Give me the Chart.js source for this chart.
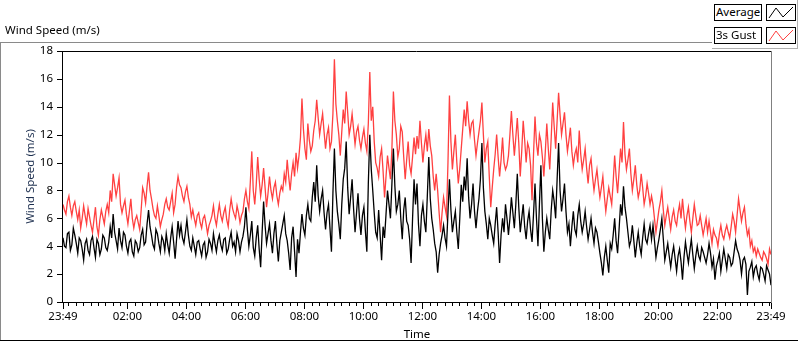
<!DOCTYPE html>
<html>
<head>
<meta charset="utf-8">
<script src="https://cdn.jsdelivr.net/npm/chart.js@4.4.1/dist/chart.umd.min.js"></script>
<style>
  html, body { margin: 0; padding: 0; background: #fff; }
  #wrap { position: relative; width: 800px; height: 342px; overflow: hidden; font-family: "Noto Sans", "DejaVu Sans", sans-serif; font-size: 11.5px; color: #000; }
  #c { position: absolute; left: 0; top: 0; }
  .ln { position: absolute; }
  .title { position: absolute; left: 5px; top: 22px; line-height: 16px; white-space: nowrap; }
  .panel { position: absolute; left: 712px; top: 0; width: 86px; height: 49px; border-right: 1px solid #b0b0b0; border-bottom: 1px solid #b0b0b0; box-sizing: border-box; }
  .lgbox { position: absolute; box-sizing: border-box; border: 1px solid #000; background: #fff; line-height: 14px; padding-left: 1px; white-space: nowrap; overflow: hidden; }
  .lgicon { position: absolute; box-sizing: border-box; border: 1px solid #000; background: #fff; }
</style>
</head>
<body>
<div id="wrap">
  <canvas id="c" width="800" height="342"></canvas>
  <div class="title">Wind Speed (m/s)</div>
  <div class="ln" style="left:0;top:42px;width:712px;height:1px;background:#8a8a8a"></div>
  <div class="ln" style="left:0;top:42px;width:1px;height:299px;background:#8a8a8a"></div>
  <div class="ln" style="left:0;top:340px;width:798px;height:1px;background:#000"></div>
  <div class="panel"></div>
  <div class="lgbox" style="left:714px;top:4px;width:48px;height:17px">Average</div>
  <div class="lgicon" style="left:766px;top:4px;width:30px;height:17px">
    <svg width="28" height="15" style="display:block"><polyline points="2,13 9,3 16,12 26,2" fill="none" stroke="#000" stroke-width="1"/></svg>
  </div>
  <div class="lgbox" style="left:714px;top:27px;width:48px;height:17px">3s Gust</div>
  <div class="lgicon" style="left:766px;top:27px;width:30px;height:17px">
    <svg width="28" height="15" style="display:block"><polyline points="2,13 9,3 16,12 26,2" fill="none" stroke="#ff4040" stroke-width="1"/></svg>
  </div>
</div>
<script>
// ---- data, one sample every 3 minutes starting 23:49 ----
const SAMPLE_STEP_MIN = 3;

const averageSpeed = [
  4.6,4.0,3.9,4.9,5.0,3.7,4.1,5.3,4.8,4.2,3.5,4.6,4.4,3.8,3.0,4.2,4.5,3.7,3.4,4.4,
  4.7,3.9,3.2,4.5,4.2,3.4,3.8,4.8,4.6,3.9,3.7,4.3,5.4,4.6,6.3,5.0,4.4,3.8,5.3,4.4,
  3.9,5.0,4.8,4.0,3.5,4.3,4.5,3.6,3.3,4.4,4.2,3.6,3.9,4.8,5.2,4.1,4.3,5.6,6.6,5.4,
  4.8,4.1,3.8,5.2,4.9,4.2,3.6,4.7,4.4,3.7,4.9,4.1,3.5,4.6,5.4,4.3,3.1,4.5,5.8,4.8,
  5.5,4.6,4.2,5.0,5.9,4.8,4.0,3.7,4.6,4.0,3.4,4.3,4.4,3.8,3.3,4.1,4.3,3.2,3.6,4.5,
  4.2,3.7,4.9,4.2,3.6,4.4,4.8,4.1,3.7,4.5,4.6,3.5,3.8,4.5,5.0,4.0,4.3,3.6,4.9,4.4,
  3.6,4.3,4.7,5.4,6.8,5.2,4.0,4.8,5.8,3.9,3.3,4.6,5.5,3.8,2.5,5.0,7.2,5.5,4.2,4.9,
  5.6,4.4,3.5,4.9,5.8,4.2,2.9,4.4,5.0,5.6,6.2,4.9,4.4,3.5,2.3,4.6,5.4,3.6,1.8,4.5,
  3.5,5.0,6.3,5.3,4.8,6.2,7.0,6.0,5.8,7.5,8.6,7.2,9.8,7.6,6.5,7.4,8.0,6.4,5.2,6.4,
  7.0,5.3,3.6,7.8,11.0,8.0,6.5,5.6,4.5,7.0,8.8,9.6,11.5,8.2,6.3,7.5,8.8,6.7,5.0,6.4,
  7.8,6.0,4.8,6.2,6.8,5.1,3.6,8.5,12.0,9.5,8.0,6.4,5.0,4.6,6.6,4.8,3.0,5.4,4.6,6.3,
  8.0,7.0,6.0,8.5,11.0,8.3,6.5,7.0,8.0,6.0,4.5,6.6,7.5,5.8,5.5,4.5,2.8,6.0,8.8,7.0,
  8.5,5.6,4.0,6.2,7.0,5.8,5.0,7.6,10.4,7.4,6.0,5.2,4.2,3.6,2.1,3.4,4.2,4.8,5.5,4.6,
  4.0,6.4,8.8,6.6,5.0,5.8,6.5,5.0,3.8,6.0,8.4,7.2,9.0,8.0,10.3,7.5,6.0,7.0,8.5,6.5,
  5.3,6.5,7.4,8.8,11.4,8.2,6.5,5.6,4.5,6.0,5.5,4.8,4.2,5.6,6.8,5.0,2.8,4.8,6.0,5.0,
  7.0,6.0,4.8,6.0,7.5,6.4,5.3,7.0,9.2,6.8,5.0,6.0,7.0,5.4,4.5,5.8,6.5,5.2,4.3,6.3,
  8.5,6.0,4.0,7.0,9.8,6.0,3.6,5.0,6.0,5.2,4.5,6.6,8.0,7.2,6.0,8.8,11.4,8.0,6.5,7.4,
  8.5,6.5,5.0,5.6,4.0,5.4,6.5,5.2,4.8,6.2,7.0,5.8,5.0,5.6,6.5,5.4,4.5,5.2,6.0,5.0,
  4.2,5.3,5.0,4.3,3.5,2.8,1.9,3.2,4.0,3.0,2.1,4.2,3.8,4.8,6.0,4.4,3.5,5.2,7.0,6.2,
  8.3,6.8,6.0,5.0,4.0,4.4,5.5,4.4,3.2,4.2,5.0,4.0,3.4,4.6,5.6,4.5,4.2,4.9,5.5,4.5,
  5.5,4.4,3.2,3.9,4.5,5.2,6.0,4.5,3.0,3.6,4.2,3.3,2.5,3.4,4.0,3.1,2.2,3.3,3.8,2.9,
  1.6,3.2,4.3,3.5,2.8,3.7,4.5,3.4,2.4,3.3,4.0,3.3,3.0,3.9,3.6,3.2,2.8,3.4,4.2,3.5,
  2.5,3.1,1.6,2.6,3.0,3.5,2.2,3.0,3.8,3.1,2.4,3.4,3.2,2.6,2.8,3.6,4.4,3.8,3.5,3.0,
  2.0,3.0,3.2,2.7,0.5,2.2,2.5,2.9,1.8,2.4,2.6,2.0,1.6,2.5,2.4,2.0,1.5,2.6,2.3,2.0,
  1.2
];

const gustSpeed = [
  7.0,6.6,6.3,7.2,7.6,6.8,6.2,6.9,7.2,6.5,5.9,6.6,5.3,6.0,6.9,6.2,5.6,6.7,6.1,5.5,
  5.0,5.9,6.8,5.4,4.8,5.9,6.6,6.1,5.6,6.5,7.0,6.4,8.0,7.2,9.2,8.4,7.6,8.2,8.9,7.0,
  6.4,6.9,7.3,6.3,5.6,6.5,7.4,6.0,5.3,5.9,6.2,5.7,5.2,6.6,8.2,7.8,7.1,8.3,9.3,8.0,
  7.4,6.7,6.2,6.0,6.9,6.2,5.4,5.9,6.3,7.0,7.4,6.8,6.6,7.2,7.8,6.4,7.0,8.2,9.0,8.4,
  8.2,7.6,7.2,7.9,8.3,7.5,7.0,6.1,6.6,6.0,5.5,6.2,6.4,5.7,5.3,6.0,6.2,5.6,4.9,5.5,
  5.8,6.2,6.9,6.0,5.5,6.3,7.0,6.2,5.8,6.4,6.8,5.9,5.4,6.6,7.4,6.7,6.3,6.0,6.9,6.4,
  5.7,6.2,6.5,7.4,8.0,7.2,6.7,8.6,10.8,8.0,7.0,8.4,10.4,8.8,7.6,8.4,9.6,8.2,6.8,7.8,
  9.0,8.0,7.4,8.2,8.6,7.6,7.0,7.8,8.3,8.0,9.2,8.6,10.2,9.0,8.0,9.2,10.0,9.0,10.7,9.6,
  10.5,11.8,14.6,12.4,11.0,10.2,12.8,11.6,10.8,11.2,12.3,13.0,14.5,13.2,12.0,12.8,13.5,12.2,11.0,12.0,
  12.5,11.0,11.5,13.5,17.4,14.2,13.0,12.0,10.5,12.2,13.8,12.8,15.1,13.6,12.0,12.6,13.5,12.4,11.3,12.2,
  12.6,11.6,11.0,11.8,12.4,11.4,10.8,12.8,16.5,13.0,14.0,11.5,10.0,9.6,9.0,10.4,11.0,9.4,7.5,9.0,
  10.5,9.6,8.8,11.0,15.1,13.0,12.0,10.4,11.0,12.6,12.2,10.4,8.8,10.2,11.5,9.8,9.2,10.4,11.8,10.6,
  11.9,11.0,13.0,11.4,10.0,11.2,12.0,10.8,12.4,11.2,10.5,9.0,8.0,9.2,8.0,6.4,5.0,6.4,7.5,6.8,
  6.2,10.0,14.8,11.5,9.5,10.8,12.0,10.0,8.5,9.6,11.0,12.4,13.8,12.6,14.4,13.0,12.0,12.8,13.0,11.6,
  10.5,11.4,12.2,13.0,14.3,12.0,10.0,11.0,11.5,9.0,6.8,8.2,9.5,10.6,12.0,10.4,9.0,10.2,11.8,10.0,
  9.5,9.8,10.5,12.0,13.7,12.0,10.5,11.8,13.2,11.4,9.0,10.8,13.0,11.6,10.0,11.4,11.0,9.8,7.3,10.6,
  13.3,11.4,10.5,12.0,11.5,10.4,9.0,10.8,12.8,11.0,9.5,11.8,14.3,12.6,11.0,13.0,15.0,13.4,12.0,12.8,
  13.6,12.0,10.8,11.6,12.5,10.8,9.8,10.6,11.0,10.0,12.3,10.6,9.5,10.2,11.0,9.6,8.5,9.8,10.3,9.0,
  8.0,8.8,9.5,8.4,7.5,8.2,9.0,7.6,6.5,7.4,8.2,7.6,7.0,8.6,10.5,9.0,7.8,9.4,11.0,10.0,
  12.9,10.6,9.5,10.2,11.0,9.2,8.0,8.8,9.8,8.4,7.5,8.0,9.2,8.2,7.0,7.6,8.5,7.8,7.0,7.6,
  7.0,6.0,5.0,5.8,6.6,7.2,8.0,6.6,5.5,6.2,6.8,6.0,5.2,6.1,6.6,5.8,5.5,6.4,7.0,6.0,
  7.4,6.2,5.3,6.2,6.8,5.8,5.0,6.0,7.0,6.2,5.5,5.6,6.2,5.5,4.8,5.4,6.0,5.0,5.8,5.0,
  4.2,5.2,4.8,4.6,4.0,4.9,5.5,4.8,4.5,5.1,5.5,5.0,4.6,5.4,6.3,5.8,5.0,6.2,7.4,6.6,
  5.8,6.4,6.8,5.6,4.8,5.2,4.0,4.4,3.6,3.9,3.3,3.8,3.5,3.2,3.0,3.6,3.4,3.1,2.7,3.8,
  3.4
];

// labelled time ticks (minutes after 23:49) and their labels
const majorTickMinutes = [0, 131, 251, 371, 491, 611, 731, 851, 971, 1091, 1211, 1331, 1440];
const majorTickLabels  = ['23:49','02:00','04:00','06:00','08:00','10:00','12:00','14:00','16:00','18:00','20:00','22:00','23:49'];
const yTickValues = [0, 2, 4, 6, 8, 10, 12, 14, 16, 18];
const MINOR_TICK_START = 11, MINOR_TICK_STEP = 15, SPAN_MIN = 1440;

const FONT = '"Noto Sans", "DejaVu Sans", sans-serif';
const FS = 11.5;

const toPoints = arr => arr.map((v, i) => ({ x: i * SAMPLE_STEP_MIN, y: v }));

const allXTicks = (() => {
  const s = new Set(majorTickMinutes);
  for (let m = MINOR_TICK_START; m < SPAN_MIN; m += MINOR_TICK_STEP) s.add(m);
  return Array.from(s).sort((a, b) => a - b);
})();

const frameAndTicks = {
  id: 'frameAndTicks',
  afterDraw(chart) {
    const { ctx, chartArea: a } = chart;
    const xs = chart.scales.x, ys = chart.scales.y;
    ctx.save();
    ctx.lineWidth = 1;
    ctx.strokeStyle = '#000';
    ctx.beginPath();
    ctx.moveTo(a.left - 1, a.top + 0.5); ctx.lineTo(a.right, a.top + 0.5);
    ctx.moveTo(a.left - 0.5, a.top); ctx.lineTo(a.left - 0.5, a.bottom + 1);
    ctx.moveTo(a.left - 1, a.bottom + 0.5); ctx.lineTo(a.right, a.bottom + 0.5);
    ctx.stroke();
    ctx.strokeStyle = '#808080';
    ctx.beginPath();
    ctx.moveTo(a.right + 0.5, a.top); ctx.lineTo(a.right + 0.5, a.bottom + 1);
    ctx.stroke();
    ctx.strokeStyle = '#000';
    ctx.beginPath();
    xs.ticks.forEach(t => {
      const px = Math.round(xs.getPixelForValue(t.value)) + 0.5;
      const len = majorTickMinutes.includes(t.value) ? 6 : 3;
      ctx.moveTo(px, a.bottom + 1); ctx.lineTo(px, a.bottom + 1 + len);
    });
    ys.ticks.forEach(t => {
      const py = Math.round(ys.getPixelForValue(t.value)) + 0.5;
      ctx.moveTo(a.left - 6, py); ctx.lineTo(a.left - 1, py);
    });
    ctx.stroke();
    ctx.restore();
  }
};

new Chart(document.getElementById('c'), {
  type: 'line',
  data: {
    datasets: [
      { label: 'Average', data: toPoints(averageSpeed), borderColor: '#000000', borderWidth: 1.3, pointRadius: 0, tension: 0, fill: false },
      { label: '3s Gust', data: toPoints(gustSpeed), borderColor: '#ff4040', borderWidth: 1.3, pointRadius: 0, tension: 0, fill: false }
    ]
  },
  options: {
    responsive: false,
    animation: false,
    events: [],
    layout: { padding: { left: 0, top: 51, right: 29, bottom: 0 } },
    plugins: { legend: { display: false }, tooltip: { enabled: false } },
    scales: {
      x: {
        type: 'linear', min: 0, max: SPAN_MIN,
        afterBuildTicks: s => { s.ticks = allXTicks.map(v => ({ value: v })); },
        afterFit: s => { s.height = 40; },
        grid: { display: false, drawTicks: false },
        border: { display: false },
        ticks: {
          autoSkip: false, maxRotation: 0, padding: 8, color: '#000',
          font: { family: FONT, size: FS },
          callback: v => { const k = majorTickMinutes.indexOf(v); return k >= 0 ? majorTickLabels[k] : ''; }
        },
        title: { display: true, text: 'Time', color: '#000', font: { family: FONT, size: FS }, padding: { top: 0, bottom: 0 } }
      },
      y: {
        min: 0, max: 18,
        afterBuildTicks: s => { s.ticks = yTickValues.map(v => ({ value: v })); },
        afterFit: s => { s.width = 63; },
        grid: { display: false, drawTicks: false },
        border: { display: false },
        ticks: { padding: 10, color: '#000', font: { family: FONT, size: FS } },
        title: { display: true, text: 'Wind Speed (m/s)', color: '#1e3050', font: { family: FONT, size: FS }, padding: { top: 24, bottom: 0 } }
      }
    }
  },
  plugins: [frameAndTicks]
});
</script>
</body>
</html>
